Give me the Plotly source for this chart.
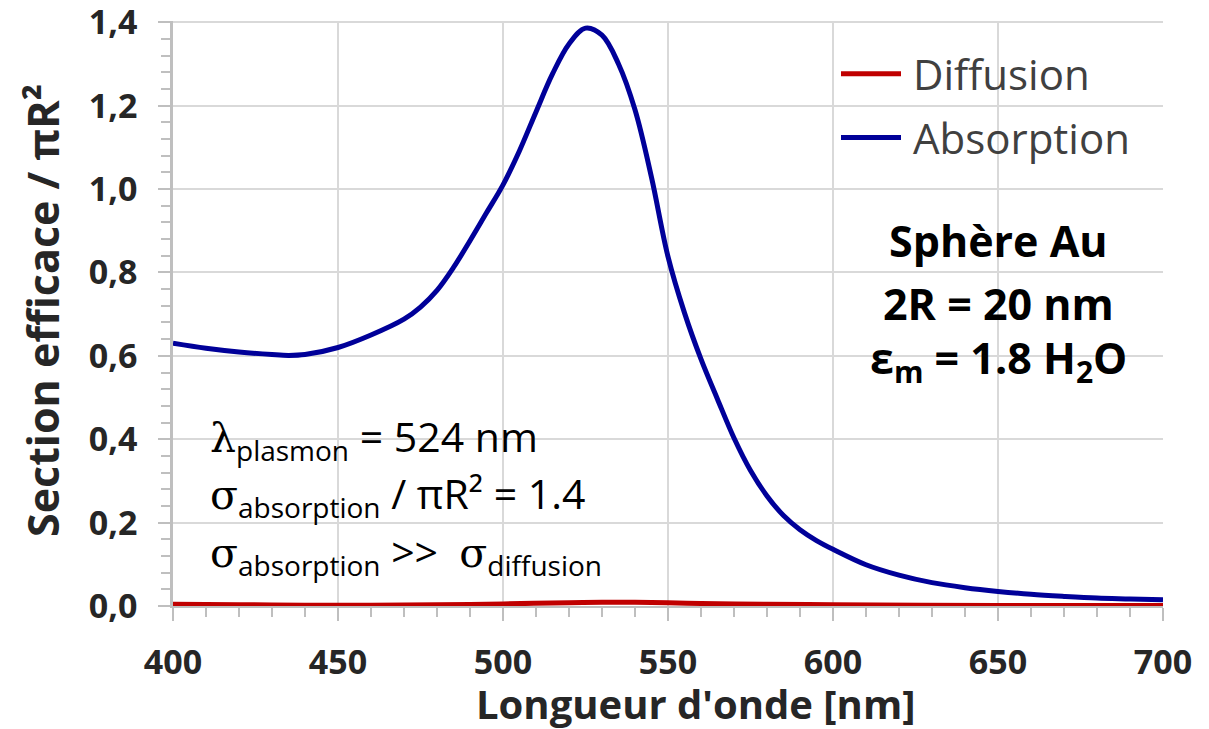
import plotly.graph_objects as go

# ---- data ----
wavelength_abs = [400, 410, 420, 430, 435, 440, 450, 460, 470, 475, 480, 485, 490, 495,
                  500, 505, 510, 515, 520, 525, 530, 535, 540, 545, 550, 555, 560, 565,
                  570, 575, 580, 585, 590, 595, 600, 610, 620, 630, 640, 650, 660, 670,
                  680, 690, 700]
absorption = [0.630, 0.618, 0.609, 0.603, 0.601, 0.603, 0.620, 0.650, 0.688, 0.717, 0.757,
              0.812, 0.876, 0.943, 1.010, 1.092, 1.185, 1.276, 1.348, 1.386, 1.369, 1.300,
              1.190, 1.028, 0.838, 0.703, 0.592, 0.496, 0.403, 0.325, 0.264, 0.217, 0.183,
              0.157, 0.136, 0.099, 0.074, 0.056, 0.044, 0.035, 0.028, 0.023, 0.019, 0.017,
              0.015]

wavelength_dif = [400, 420, 440, 460, 480, 500, 520, 530, 540, 550, 560, 580, 600, 650, 700]
diffusion = [0.004, 0.003, 0.002, 0.002, 0.003, 0.005, 0.008, 0.009, 0.009, 0.008, 0.006,
             0.004, 0.003, 0.001, 0.001]

x_ticks = [400, 450, 500, 550, 600, 650, 700]
y_ticks = [0.0, 0.2, 0.4, 0.6, 0.8, 1.0, 1.2, 1.4]

FONT = "Open Sans"
GRID = "#d9d9d9"
AXIS = "#bfbfbf"
TICKTXT = "#262626"

fig = go.Figure()
fig.add_trace(go.Scatter(x=wavelength_dif, y=diffusion, mode="lines", name="\u2009Diffusion",
                         line=dict(color="#c00000", width=5, shape="spline", smoothing=0.8),
                         legendgroup="d"))
fig.add_trace(go.Scatter(x=wavelength_abs, y=absorption, mode="lines", name="\u2009Absorption",
                         line=dict(color="#000099", width=5, shape="spline", smoothing=1.0),
                         legendgroup="a"))

W, H = 1209, 729
Y_TOP = 1.403
L, R, T, B = 173, 46, 21, 123
pw, ph = W - L - R, H - T - B


def px(xp):
    return (xp - L) / pw


def py(yp):
    return (H - B - yp) / ph


def greek(s):
    return f'<span style="font-family:\'DejaVu Serif\'">{s}</span>'


def sub(s, size):
    return f'<sub><span style="font-size:{size}px">{s}</span></sub>'


NOTE = 41
NSUB = 28
annotations = [
    # axis titles
    dict(text="<b>Longueur d'onde [nm]</b>", x=px(695), y=py(703), xref="paper", yref="paper",
         showarrow=False, font=dict(family=FONT, size=40, color=TICKTXT),
         xanchor="center", yanchor="middle"),
    dict(text="<b>Section efficace / πR²</b>", x=px(42), y=py(311), xref="paper", yref="paper",
         showarrow=False, font=dict(family=FONT, size=43, color=TICKTXT), textangle=-90,
         xanchor="center", yanchor="middle"),
    # left notes
    dict(text=greek("λ") + sub("plasmon", NSUB) + " = 524 nm", x=px(208), y=py(438),
         xref="paper", yref="paper", showarrow=False, xanchor="left", yanchor="middle",
         font=dict(family=FONT, size=NOTE, color="black")),
    dict(text=greek("σ") + sub("absorption", NSUB) + " / πR² = 1.4", x=px(208), y=py(495),
         xref="paper", yref="paper", showarrow=False, xanchor="left", yanchor="middle",
         font=dict(family=FONT, size=NOTE, color="black")),
    dict(text=greek("σ") + sub("absorption", NSUB) + " >>  " + greek("σ") + sub("diffusion", NSUB),
         x=px(208), y=py(553), xref="paper", yref="paper", showarrow=False,
         xanchor="left", yanchor="middle", font=dict(family=FONT, size=NOTE, color="black")),
    # right box
    dict(text="<b>Sphère Au</b>", x=px(998), y=py(240), xref="paper", yref="paper",
         showarrow=False, xanchor="center", yanchor="middle",
         font=dict(family=FONT, size=43, color="black")),
    dict(text="<b>2R = 20 nm</b>", x=px(998), y=py(303), xref="paper", yref="paper",
         showarrow=False, xanchor="center", yanchor="middle",
         font=dict(family=FONT, size=43, color="black")),
    dict(text="<b>ε<sub>m</sub> = 1.8 H<sub>2</sub>O</b>", x=px(998), y=py(360), xref="paper",
         yref="paper", showarrow=False, xanchor="center", yanchor="middle",
         font=dict(family=FONT, size=43, color="black")),
]

shapes = [dict(type="rect", xref="paper", yref="paper", x0=px(840), x1=px(1156),
               y0=py(428), y1=py(200), fillcolor="white", line=dict(width=0),
               layer="between")]

fig.update_layout(
    width=W, height=H,
    margin=dict(l=L, r=R, t=T, b=B, autoexpand=False),
    paper_bgcolor="white", plot_bgcolor="white",
    separators=", ",
    font=dict(family=FONT, color=TICKTXT),
    showlegend=True,
    legend=dict(x=px(836), y=py(40), xanchor="left", yanchor="top",
                bgcolor="rgba(0,0,0,0)", font=dict(family=FONT, size=42, color="#404040"),
                traceorder="grouped", tracegroupgap=6, itemwidth=60),
    annotations=annotations,
    shapes=shapes,
)

fig.update_xaxes(range=[400, 700.001], tickvals=x_ticks, ticktext=[str(v) for v in x_ticks],
                 showgrid=True, gridcolor=GRID, gridwidth=2,
                 showline=True, linecolor=AXIS, linewidth=2,
                 ticks="outside", ticklen=13, tickwidth=2, tickcolor=AXIS,
                 minor=dict(dtick=10, ticks="outside", ticklen=9, tickwidth=2,
                            tickcolor=AXIS, showgrid=False),
                 tickfont=dict(family=FONT, size=34, color=TICKTXT, weight="bold"),
                 ticklabelstandoff=12, ticklabeloverflow="allow", automargin=False,
                 zeroline=False, layer="below traces")
fig.update_yaxes(range=[0, Y_TOP], tickvals=y_ticks, tickformat=".1f",
                 showgrid=True, gridcolor=GRID, gridwidth=2,
                 showline=True, linecolor=AXIS, linewidth=2.5,
                 ticks="outside", ticklen=12, tickwidth=2, tickcolor=AXIS,
                 minor=dict(dtick=0.04, ticks="outside", ticklen=9, tickwidth=2,
                            tickcolor=AXIS, showgrid=False),
                 tickfont=dict(family=FONT, size=34, color=TICKTXT, weight="bold"),
                 ticklabelstandoff=14, ticklabeloverflow="allow", automargin=False,
                 zeroline=False, layer="below traces")

fig.write_html("out.html")
